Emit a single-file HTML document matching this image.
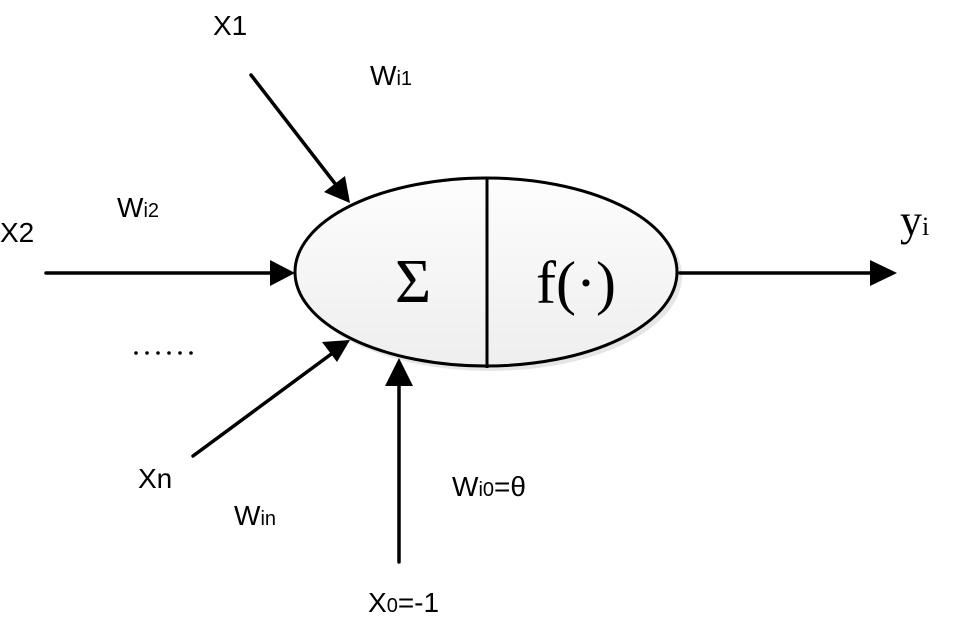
<!DOCTYPE html>
<html><head><style>html,body{margin:0;padding:0;background:#fff}svg{display:block}</style></head>
<body>
<svg width="960" height="624" viewBox="0 0 960 624" xmlns="http://www.w3.org/2000/svg">
<defs>
<linearGradient id="g" x1="0" y1="0" x2="0" y2="1"><stop offset="0" stop-color="#fdfdfd"/><stop offset="1" stop-color="#eeeeee"/></linearGradient>
</defs>
<ellipse cx="490" cy="276" rx="192" ry="95" fill="#e6e6e6"/>
<ellipse cx="486" cy="272" rx="191" ry="94" fill="url(#g)" stroke="#000" stroke-width="3"/>
<line x1="487" y1="178" x2="487" y2="368" stroke="#000" stroke-width="3"/>
<text x="395" y="302" font-family="Liberation Serif, serif" font-size="62">Σ</text>
<text x="536" y="303" font-family="Liberation Serif, serif" font-size="60">f(·)</text>
<g stroke="#000" stroke-width="3.5" stroke-linecap="round">
<line x1="251" y1="75" x2="340" y2="190"/>
<line x1="46" y1="273" x2="276" y2="273"/>
<line x1="193" y1="456" x2="334" y2="352"/>
<line x1="399" y1="562" x2="399" y2="380"/>
<line x1="680" y1="273" x2="875" y2="273"/>
</g>
<g fill="#000">
<polygon points="350,203 324,192 345,176"/>
<polygon points="295,273 270,260 270,286"/>
<polygon points="350,340 337,362 322,342"/>
<polygon points="399,358 385,386 413,386"/>
<polygon points="897,273 870,260 870,286"/>
<circle cx="136" cy="353" r="1.8"/><circle cx="147" cy="353" r="1.8"/><circle cx="158" cy="353" r="1.8"/>
<circle cx="169" cy="353" r="1.8"/><circle cx="180" cy="353" r="1.8"/><circle cx="191" cy="353" r="1.8"/>
</g>
<g font-family="Liberation Sans, sans-serif" font-size="28" fill="#000">
<text x="213" y="35">X1</text>
<text x="0" y="242">X2</text>
<text x="138" y="488">Xn</text>
<text x="370" y="85">W<tspan font-size="20">i1</tspan></text>
<text x="117" y="217">W<tspan font-size="20">i2</tspan></text>
<text x="234" y="525">W<tspan font-size="20">in</tspan></text>
<text x="452" y="496">W<tspan font-size="20">i0</tspan>=θ</text>
<text x="368" y="612">X<tspan font-size="20">0</tspan>=-1</text>
</g>
<text x="900" y="235" font-family="Liberation Serif, serif" font-size="44">y<tspan font-size="26">i</tspan></text>
</svg>
</body></html>
